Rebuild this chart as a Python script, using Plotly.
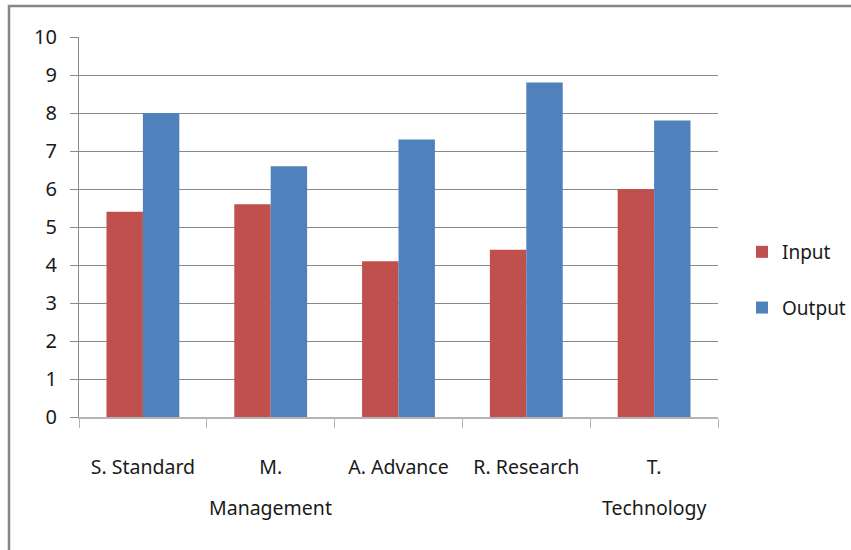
import plotly.graph_objects as go

categories = ["S. Standard", "M. Management", "A. Advance", "R. Research", "T. Technology"]
label_line1 = ["S. Standard", "M.", "A. Advance", "R. Research", "T."]
label_line2 = ["", "Management", "", "", "Technology"]
input_values = [5.4, 5.6, 4.1, 4.4, 6.0]
output_values = [8.0, 6.6, 7.3, 8.8, 7.8]
y_ticks = list(range(0, 11))

FONT = "Noto Sans"
W, H = 851, 550
L, R, T, B = 79, 0, 37, 133
PLOT_RIGHT = 718
pw, ph = W - L - R, H - T - B

fig = go.Figure()
fig.add_trace(go.Bar(name="Input", x=categories, y=input_values, marker_color="#C0504D",
                     marker_line_width=0, legendgroup="a"))
fig.add_trace(go.Bar(name="Output", x=categories, y=output_values, marker_color="#4F81BD",
                     marker_line_width=0, legendgroup="b"))

def px(x):
    return (x - L) / pw

def py(y):
    return (H - B - y) / ph

fig.add_shape(type="path", xref="paper", yref="paper",
              path=f"M {px(9)} {py(560)} L {px(9)} {py(6)} L {px(860)} {py(6)}",
              line=dict(color="#878787", width=2.5))

for cat, line2 in zip(categories, label_line2):
    if line2:
        fig.add_annotation(x=cat, xref="x", y=py(507), yref="paper", text=line2,
                           showarrow=False, yanchor="middle",
                           font=dict(size=19.5, family=FONT, color="#1a1a1a"))

fig.update_layout(
    width=W, height=H,
    margin=dict(l=L, r=R, t=T, b=B, autoexpand=False),
    paper_bgcolor="white", plot_bgcolor="white",
    barmode="group", bargap=0.43, bargroupgap=0,
    font=dict(family=FONT, size=19, color="#1a1a1a"),
    showlegend=True,
    legend=dict(x=px(742), y=py(233), xanchor="left", yanchor="top",
                tracegroupgap=28, font=dict(size=19, family=FONT),
                bgcolor="rgba(0,0,0,0)"),
    xaxis=dict(
        domain=[0, px(PLOT_RIGHT)],
        tickson="boundaries", ticks="outside", ticklen=9, tickcolor="#b4b4b4",
        showline=True, linecolor="#b4b4b4", linewidth=2,
        showgrid=False, tickfont=dict(size=19.5, family=FONT),
        tickmode="array", tickvals=categories, ticktext=label_line1,
        ticklabelstandoff=32, automargin=False,
    ),
    yaxis=dict(
        range=[0, 10], tickvals=y_ticks, ticktext=[str(v) for v in y_ticks],
        ticks="outside", ticklen=8, tickcolor="#8a8a8a",
        showline=True, linecolor="#8a8a8a", linewidth=1,
        showgrid=True, gridcolor="#8a8a8a", gridwidth=1, zeroline=False,
        tickfont=dict(size=20, family=FONT), ticklabelstandoff=9, automargin=False,
    ),
)

fig.write_html("out.html", config={"displayModeBar": False},
               post_script="document.body.style.margin='0';document.body.style.overflow='hidden';")
